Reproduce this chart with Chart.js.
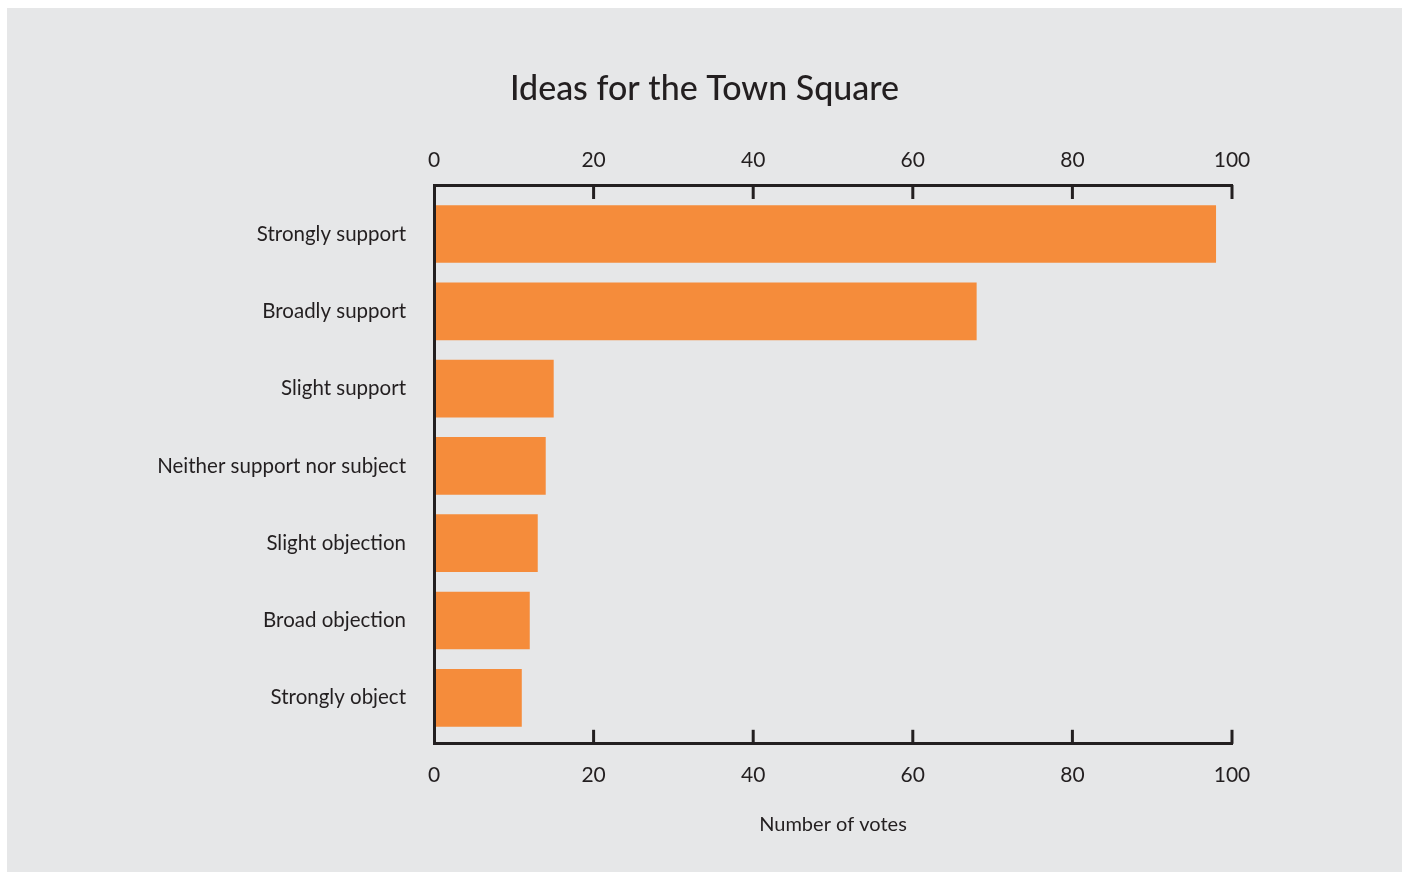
<!DOCTYPE html>
<html>
<head>
<meta charset="utf-8">
<script src="https://cdn.jsdelivr.net/npm/chart.js@4.4.1/dist/chart.umd.min.js"></script>
<style>
  html, body { margin: 0; padding: 0; background: #ffffff; }
  #panel { position: absolute; left: 7px; top: 8px; width: 1395px; height: 864px; background: #e6e7e8; }
  #c { display: block; }
</style>
</head>
<body>
<div id="panel"><canvas id="c" width="1395" height="864"></canvas></div>
<script>
const chartTitle = "Ideas for the Town Square";
const categories = [
  "Strongly support",
  "Broadly support",
  "Slight support",
  "Neither support nor subject",
  "Slight objection",
  "Broad objection",
  "Strongly object"
];
const votes = [98, 68, 15, 14, 13, 12, 11];
const axisTitle = "Number of votes";
const axisMin = 0;
const axisMax = 100;
const axisStep = 20;

const ink = "#231f20";
const barColor = "#f58c3b";
const fontFamily = "Lato, 'Open Sans', sans-serif";
const categoryPadTop = 0.134;    // extra space (category units) above the first bar slot
const categoryPadBottom = 0.095; // extra space (category units) below the last bar slot

const inwardTicks = {
  id: 'inwardTicks',
  afterDatasetsDraw(chart) {
    const ctx = chart.ctx;
    const len = 14;
    ctx.save();
    ctx.strokeStyle = ink;
    ctx.lineWidth = 3;
    ctx.lineCap = 'butt';
    ['x', 'x2'].forEach(id => {
      const s = chart.scales[id];
      s.ticks.forEach(t => {
        if (t.value === axisMin) return;
        const px = s.getPixelForValue(t.value);
        ctx.beginPath();
        if (s.position === 'top') {
          ctx.moveTo(px, chart.chartArea.top);
          ctx.lineTo(px, chart.chartArea.top + len);
        } else {
          ctx.moveTo(px, chart.chartArea.bottom);
          ctx.lineTo(px, chart.chartArea.bottom - len);
        }
        ctx.stroke();
      });
    });
    ctx.restore();
  }
};

new Chart(document.getElementById('c'), {
  type: 'bar',
  data: {
    labels: categories,
    datasets: [{
      data: votes,
      backgroundColor: barColor,
      borderWidth: 0,
      barPercentage: 0.746,
      categoryPercentage: 1.0,
      xAxisID: 'x',
      yAxisID: 'y'
    }]
  },
  options: {
    indexAxis: 'y',
    responsive: false,
    animation: false,
    layout: { padding: { top: 0, bottom: 25, left: 0, right: 0 } },
    plugins: {
      legend: { display: false },
      tooltip: { enabled: false },
      title: {
        display: true,
        text: chartTitle,
        color: ink,
        font: { family: fontFamily, size: 34, weight: '500' },
        padding: { top: 61, bottom: 26 }
      }
    },
    scales: {
      x: {
        position: 'bottom',
        min: axisMin, max: axisMax,
        grid: { display: true, drawOnChartArea: false, drawTicks: false },
        border: { display: true, color: ink, width: 3, z: 1 },
        ticks: { stepSize: axisStep, color: ink, padding: 19, font: { family: fontFamily, size: 21 } },
        title: {
          display: true, text: axisTitle, color: ink,
          font: { family: fontFamily, size: 20 },
          padding: { top: 6, bottom: 10 }
        }
      },
      x2: {
        position: 'top',
        min: axisMin, max: axisMax,
        grid: { display: true, drawOnChartArea: false, drawTicks: false },
        border: { display: true, color: ink, width: 3, z: 1 },
        ticks: { stepSize: axisStep, color: ink, padding: 12, font: { family: fontFamily, size: 21 } }
      },
      y: {
        position: 'left',
        grid: { display: false, drawTicks: false },
        border: { display: true, color: ink, width: 3, z: 1 },
        ticks: { color: ink, padding: 28, font: { family: fontFamily, size: 20.5 } },
        afterBuildTicks(s) {
          s._startValue -= categoryPadTop;
          s._valueRange += categoryPadTop + categoryPadBottom;
        },
        afterFit(s) { s.width = 427; }
      },
      y2: {
        position: 'right',
        type: 'category',
        labels: categories,
        grid: { display: false, drawTicks: false },
        border: { display: false },
        ticks: { display: false },
        afterFit(s) { s.width = 170; }
      }
    }
  },
  plugins: [inwardTicks]
});
</script>
</body>
</html>
